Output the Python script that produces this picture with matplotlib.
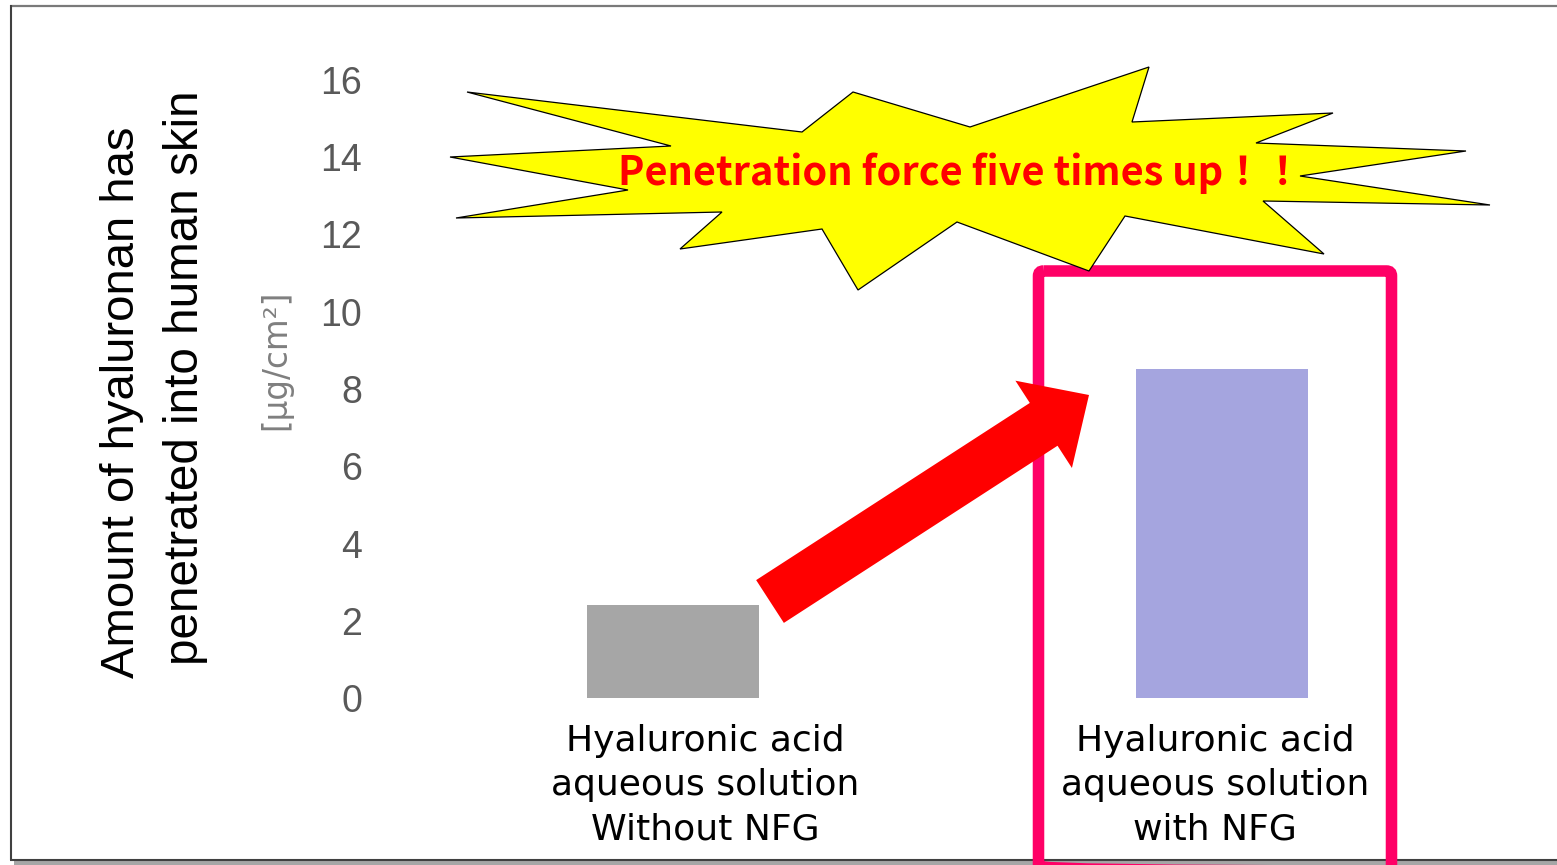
import numpy as np
import matplotlib
matplotlib.use('Agg')
import matplotlib.pyplot as plt
from matplotlib.patches import Polygon, FancyArrow, FancyBboxPatch, Rectangle

# data
categories = ['Hyaluronic acid\naqueous solution\nWithout NFG',
              'Hyaluronic acid\naqueous solution\nwith NFG']
values = [2.42, 8.52]
bar_colors = ['#A6A6A6', '#A5A5DF']
y_ticks = [0, 2, 4, 6, 8, 10, 12, 14, 16]
label_shift = [0.059, -0.013]   # label centres are not quite under the bars

ylabel_lines = ['Amount of hyaluronan has', 'penetrated into human skin']
unit_label = '[\u03bcg/cm\u00b2]'
callout = 'Penetration force five times up\uff01\uff01'

W, H = 1557, 865
fig = plt.figure(figsize=(W / 100, H / 100), dpi=100)
fig.patch.set_facecolor('white')

# main chart axes, placed in pixel terms
ax_l, ax_r, ax_t, ax_b = 398, 1497, 80, 698
ax = fig.add_axes([ax_l / W, (H - ax_b) / H, (ax_r - ax_l) / W, (ax_b - ax_t) / H])
x = np.arange(len(categories))
ax.bar(x, values, width=0.313, color=bar_colors, zorder=2)
ax.set_xlim(-0.5, 1.5)
ax.set_ylim(0, 16)
ax.set_yticks(y_ticks)
ax.set_yticklabels([str(t) for t in y_ticks], fontsize=27, color='#595959',
                   family='Liberation Sans')
ax.tick_params(axis='y', length=0, pad=26)
ax.set_xticks([])
for s in ax.spines.values():
    s.set_visible(False)
ax.patch.set_alpha(0)

for i, lab in enumerate(categories):
    ax.annotate(lab, xy=(x[i] + label_shift[i], 0), xycoords=('data', 'axes fraction'),
                xytext=(0, -19), textcoords='offset points', ha='center', va='top',
                fontsize=26, family='DejaVu Sans', linespacing=1.37, color='black')

# overlay in pixel coordinates for the decorations
ov = fig.add_axes([0, 0, 1, 1], zorder=5)
ov.set_xlim(0, W)
ov.set_ylim(H, 0)
ov.axis('off')
ov.patch.set_alpha(0)

# slide frame with shadow
ov.add_patch(Rectangle((14, 861), W, 5, color='#a6a6a6', lw=0))
ov.plot([10, W], [5.5, 5.5], color='#7a7a7a', lw=1.6, solid_capstyle='butt')
ov.plot([10.7, 10.7], [5, 860], color='#404040', lw=1.5, solid_capstyle='butt')
ov.plot([10, W], [859.8, 859.8], color='#404040', lw=1.5, solid_capstyle='butt')

# y axis title (two lines) and unit
ov.text(122, 402, ylabel_lines[0], rotation=90, ha='center', va='center',
        fontsize=34, family='Liberation Sans', color='black')
ov.text(186, 378, ylabel_lines[1], rotation=90, ha='center', va='center',
        fontsize=34.3, family='Liberation Sans', color='black')
ov.text(276, 360, unit_label, rotation=90, ha='center', va='center',
        fontsize=23.5, family='DejaVu Sans', color='#7f7f7f')

# pink highlight box
ov.add_patch(FancyBboxPatch((1038.5, 271), 353, 600,
                            boxstyle='round,pad=0,rounding_size=5',
                            fill=False, ec='#FF0066', lw=8.3, zorder=3))

# starburst callout
star = [(467, 92), (802, 132), (853, 92), (970, 127), (1149, 67), (1132, 122),
        (1333, 113), (1256, 143), (1466, 151), (1300, 176), (1490, 205),
        (1263, 201), (1324, 254), (1125, 216), (1089, 271), (957, 222),
        (858, 290), (822, 229), (680, 249), (722, 212), (456, 218), (628, 190),
        (450, 157), (671, 146)]
ov.add_patch(Polygon(star, closed=True, fc='#FFFF00', ec='black', lw=0.9, zorder=4))
ov.text(960, 173, callout, ha='center', va='center', fontsize=28.6, fontweight='bold',
        color='#FF0000', family=['Noto Sans CJK JP', 'DejaVu Sans'], zorder=6)

# red arrow from small bar to large bar
tail = np.array([770, 601.5])
tip = np.array([1089, 395])
d = tip - tail
ov.add_patch(FancyArrow(tail[0], tail[1], d[0], d[1], width=51, head_width=104,
                        head_length=54, length_includes_head=True,
                        fc='#FF0000', ec='none', zorder=6))

fig.savefig('out.png', dpi=100)
